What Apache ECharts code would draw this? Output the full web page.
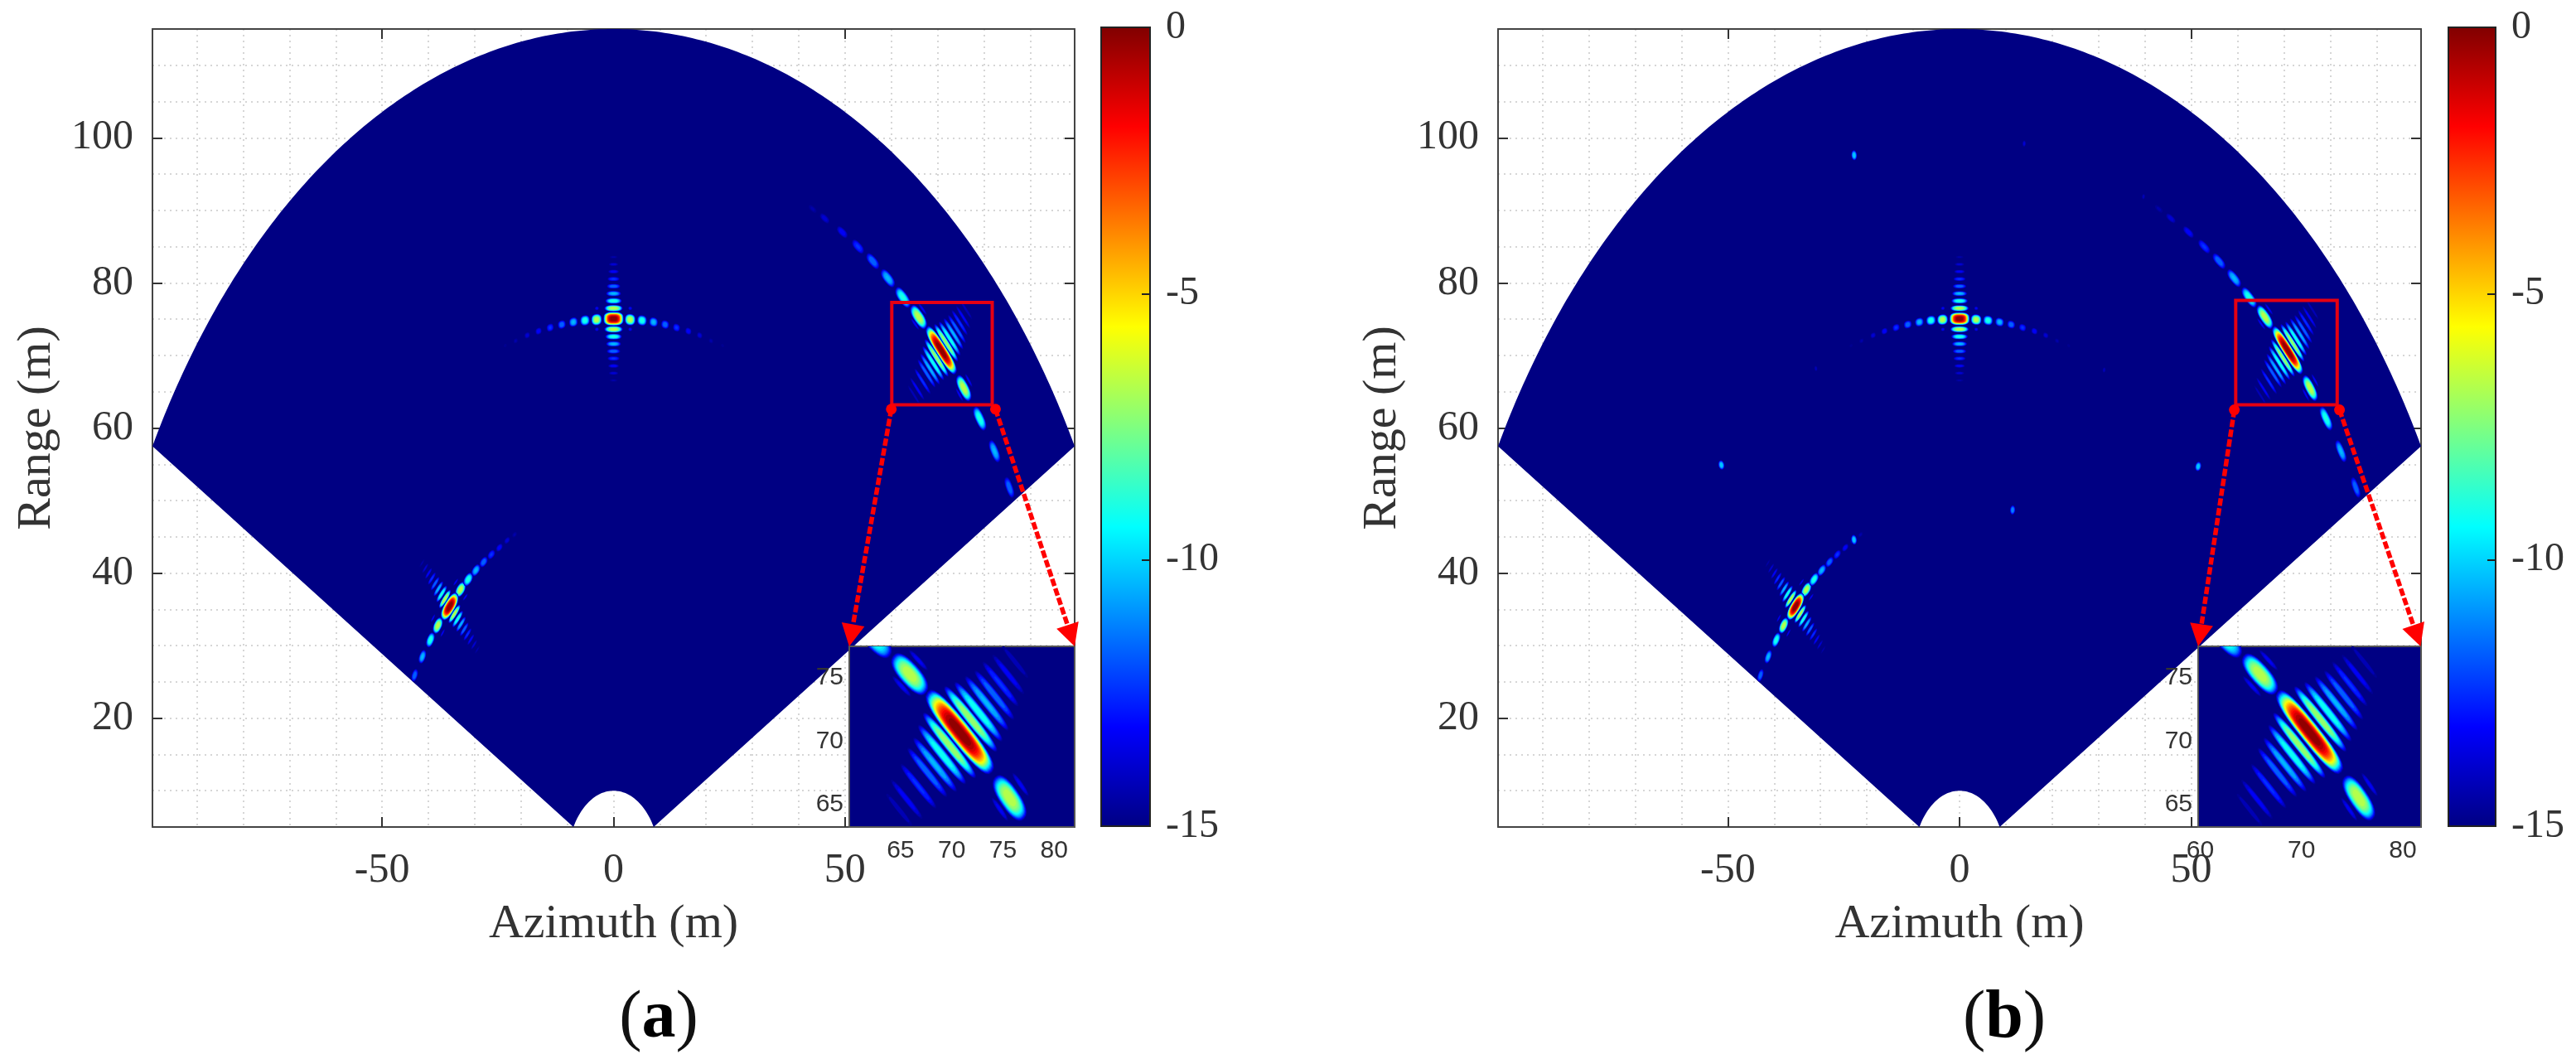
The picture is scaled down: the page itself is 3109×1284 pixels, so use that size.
<!DOCTYPE html>
<html><head><meta charset="utf-8">
<style>html,body{margin:0;padding:0;background:#fff}#c{width:3109px;height:1284px}</style>
<script src="https://cdn.jsdelivr.net/npm/echarts@6/dist/echarts.min.js"></script>
</head><body><div id="c"></div>
<script>
// ---------- values (azimuth m, range m, level dB) ----------
const xTicks=[-50,0,50];
const yTicks=[20,40,60,80,100];
const xGridValues=[-90,-80,-70,-60,-50,-40,-30,-20,-10,0,10,20,30,40,50,60,70,80,90];
const yGridValues=[10,15,20,25,30,35,40,45,50,55,60,65,70,75,80,85,90,95,100,105,110];
const sectorRadii=[10,115];
const sectorHalfAngle=[60];
const colorbarTicks=[-15,-10,-5,0];
const insetYTicks=[65,70,75];
const insetXTicksA=[65,70,75,80];
const insetXTicksB=[60,70,80];

const starMain=[[0,75.06,0]];
const starAzimuthLobes=[[3.58,74.94,-6.6],[6.15,74.83,-8.9],[8.64,74.6,-10.4],[11.14,74.26,-11.5],[13.6,73.84,-12.4],[16.16,73.35,-13.2],[18.6,72.77,-13.8],[21.05,72.01,-14.4],[23.55,71.36,-14.8],
 [-3.67,74.94,-6.6],[-6.17,74.83,-8.9],[-8.68,74.6,-10.4],[-11.18,74.26,-11.5],[-13.69,73.84,-12.4],[-16.2,73.35,-13.2],[-18.65,72.77,-13.8],[-21.15,72.01,-14.4],[-23.4,71.36,-14.8]];
const starRangeLobes=[[0,76.51,-6.6],[0,77.52,-8.9],[0,78.53,-10.4],[0,79.54,-11.5],[0,80.54,-12.4],[0,81.56,-13.2],[0,82.56,-13.8],[0,83.56,-14.4],
 [0,73.61,-6.6],[0,72.6,-8.9],[0,71.59,-10.4],[0,70.58,-11.5],[0,69.58,-12.4],[0,68.56,-13.2],[0,67.56,-13.8],[0,66.56,-14.4]];
const starCornerLobes=[[3.6,76.5,-13.3],[-3.6,76.5,-13.3],[3.6,73.6,-13.3],[-3.6,73.6,-13.3]];

const leftMain=[[-35.4,35.4,0]];
const leftChainLobes=[[-33.06,37.72,-6.6],[-31.4,39.13,-8.9],[-29.73,40.39,-10.4],[-28.06,41.53,-11.5],[-26.39,42.56,-12.4],[-24.66,43.51,-13.2],[-22.99,44.5,-13.8],[-21.38,45.3,-14.4],
 [-37.96,32.77,-6.6],[-39.56,30.79,-8.9],[-41.29,28.47,-10.4],[-42.96,25.91,-11.5]];
const leftCombLobes=[[-36.43,36.43,-6.6],[-37.13,37.13,-8.9],[-37.84,37.84,-10.4],[-38.55,38.55,-11.5],[-39.25,39.25,-12.4],[-39.96,39.96,-13.2],[-40.67,40.67,-13.8],[-41.37,41.37,-14.4],
 [-34.37,34.37,-6.6],[-33.67,33.67,-8.9],[-32.96,32.96,-10.4],[-32.25,32.25,-11.5],[-31.55,31.55,-12.4],[-30.84,30.84,-13.2],[-30.13,30.13,-13.8],[-29.43,29.43,-14.4]];
const leftFlankLobes=[[-34.09,38.75,-13.3],[-32.03,36.69,-13.3],[-38.99,33.8,-13.3],[-36.93,31.74,-13.3]];

const rightMain=[[70.79,70.72,0]];
const rightChainLobes=[[65.9,75.3,-6.6],[62.5,78,-8.9],[59.25,80.65,-10.4],[56,83,-11.5],[52.8,85,-12.4],[49.4,87,-13.2],[45.6,88.9,-13.8],[43,90.2,-14.4],
 [75.65,65.5,-6.6],[79.1,61.3,-8.9],[82.3,56.8,-10.4],[85.5,51.8,-11.5]];
const rightCombLobes=[[71.85,71.75,-7],[72.61,72.33,-9],[73.42,72.99,-10.4],[74.17,73.64,-11.5],[74.76,74.52,-12.4],[75.52,75.28,-13.2],[76.19,76.27,-14],
 [69.78,69.66,-7],[69.05,68.94,-9],[68.37,68.13,-10.4],[67.62,67.52,-11.5],[66.75,66.43,-12.4],[65.6,65.4,-13.2],[64.87,64.57,-14]];
const rightFlankLobes=[[66.74,76.41,-13.3],[65.12,74.33,-13.3],[76.72,66.56,-13.3],[74.7,64.6,-13.3]];

// ghost responses present only in panel (b)
const ghostLobes=[[-22.75,97.6,-10],[13.95,99.2,-13.8],[-51.4,54.9,-10],[51.5,54.7,-10],[11.45,48.7,-11],[-22.78,44.6,-10],[-31,68.2,-14.2],[31.2,68,-14.2],[39.7,91.9,-14.2]];

// zoom window
const zoomBoxA=[60.1,63.2,81.8,77.3];
const zoomBoxB=[59.6,63.2,81.5,77.6];
const insetXRangeA=[60,82];
const insetXRangeB=[59.8,81.8];
const insetYRange=[63.2,77.5];
const arrowsA=[[60.0,62.6,50.9,29.9],[82.5,62.6,99.6,29.9]];
const arrowsB=[[59.3,62.5,51.5,29.9],[82.0,62.5,99.5,29.9]];

// ---------- colour scale ----------
const jetStops=[[0,[0,0,131]],[0.125,[0,0,255]],[0.375,[0,255,255]],[0.625,[255,255,0]],[0.875,[255,0,0]],[1,[128,0,0]]];
function jet(dB){
  const t=Math.max(0,Math.min(1,(dB+15)/15));
  for(let i=1;i<jetStops.length;i++){
    if(t<=jetStops[i][0]){
      const a=jetStops[i-1],b=jetStops[i],k=(t-a[0])/(b[0]-a[0]);
      return 'rgb('+[0,1,2].map(j=>Math.round(a[1][j]+(b[1][j]-a[1][j])*k)).join(',')+')';
    }
  }
  return 'rgb(128,0,0)';
}
const NAVY='#000083', INK='#333333', SERIF='"Liberation Serif","Times New Roman",serif', SANS='"Liberation Sans",Arial,sans-serif';

// ---------- lobe drawing: nested contours in data space, axes follow the polar grid ----------
function lobeRender(params,api){
  const x=api.value(0),y=api.value(1),peak=api.value(2),aT=api.value(3),aR=api.value(4),n=api.value(5);
  const r=Math.hypot(x,y),Rx=x/r,Ry=y/r,Tx=y/r,Ty=-x/r;
  const children=[];
  for(let L=-15;L<peak-0.001;L+=0.5){
    const f=Math.pow((peak-L)/(peak+15),0.33);
    const pts=[];
    for(let k=0;k<28;k++){
      const t=k/28*2*Math.PI,c=Math.cos(t),s=Math.sin(t);
      const u=Math.sign(c)*Math.pow(Math.abs(c),2/n)*aT*f,v=Math.sign(s)*Math.pow(Math.abs(s),2/n)*aR*f;
      pts.push(api.coord([x+u*Tx+v*Rx,y+u*Ty+v*Ry]));
    }
    children.push({type:'polygon',silent:true,shape:{points:pts},style:{fill:jet(Math.min(L+0.25,peak))}});
  }
  return {type:'group',children};
}
function withShape(lobes,aT,aR,n,scaled,widthScale){
  return lobes.map(d=>{
    const s=scaled?Math.pow((d[2]+15)/8.4,0.35):1;
    return [d[0],d[1],d[2],aT*s,aR*s*widthScale,n];
  });
}
function starLobes(w){
  return [].concat(
    withShape(starCornerLobes,0.75,0.45,2,true,w),
    withShape(starAzimuthLobes,1.15,0.8,2.4,true,w),
    withShape(starRangeLobes,2.0,0.44,2.4,true,w),
    withShape(starMain,2.2,0.95,3,false,w));
}
function leftLobes(w){
  return [].concat(
    withShape(leftFlankLobes,1.25,0.3,2,true,w),
    withShape(leftChainLobes,1.3,0.78,2.2,true,w),
    withShape(leftCombLobes,1.75,0.4,2.2,true,w),
    withShape(leftMain,2.4,1.0,2.4,false,w));
}
function rightLobes(w){
  return [].concat(
    withShape(rightFlankLobes,2.1,0.4,2,true,w),
    withShape(rightChainLobes,2.2,0.95,2.4,true,w),
    withShape(rightCombLobes,3.7,0.47,2.4,true,w),
    withShape(rightMain,4.5,0.98,2.8,false,w));
}

// ---------- option assembly ----------
const xAxes=[],yAxes=[],grids=[],series=[];
const X_RANGE=[-99.6,99.6],Y_RANGE=[5,115];
const off={show:false};
function addAxes(gridIndex,xo,yo){
  const xi=xAxes.length,yi=yAxes.length;
  if(xo)xAxes.push(Object.assign({type:'value',gridIndex,splitLine:off,axisLine:off,axisTick:off,axisLabel:off},xo));
  if(yo)yAxes.push(Object.assign({type:'value',gridIndex,splitLine:off,axisLine:off,axisTick:off,axisLabel:off},yo));
  return [xi,yi];
}
const frame={show:true,onZero:false,lineStyle:{color:'#444',width:2}};
const dotted={show:true,lineStyle:{color:'#d6d6d6',width:2,type:[2,5]}};
function ticks(vals){return {show:true,inside:true,length:12,customValues:vals,lineStyle:{color:'#333',width:2}};}

function addPanel(p){
  const G={left:p.left,top:35,width:p.right-p.left,height:963};
  const base=grids.length;
  // 0: dotted background lines
  grids.push(Object.assign({},G));
  addAxes(base,
    {min:X_RANGE[0],max:X_RANGE[1],splitLine:dotted,axisTick:{show:false,customValues:xGridValues},axisLabel:{show:false,customValues:xGridValues}},
    {min:Y_RANGE[0],max:Y_RANGE[1],splitLine:dotted,axisTick:{show:false,customValues:yGridValues},axisLabel:{show:false,customValues:yGridValues}});
  // 1: main axes with ticks and a closed box
  const mg=base+1;
  grids.push(Object.assign({},G));
  const mx=xAxes.length,my=yAxes.length;
  addAxes(mg,
    {min:X_RANGE[0],max:X_RANGE[1],position:'bottom',axisLine:frame,axisTick:ticks(xTicks),
     axisLabel:{show:true,customValues:xTicks,fontFamily:SERIF,fontSize:50,color:INK,margin:28,formatter:v=>String(v)},
     name:'Azimuth (m)',nameLocation:'middle',nameGap:89,nameTextStyle:{fontFamily:SERIF,fontSize:58,color:INK}},
    {min:Y_RANGE[0],max:Y_RANGE[1],position:'left',axisLine:frame,axisTick:ticks(yTicks),
     axisLabel:{show:true,customValues:yTicks,fontFamily:SERIF,fontSize:50,color:INK,margin:23,formatter:v=>String(v)},
     name:'Range (m)',nameLocation:'middle',nameGap:110,nameTextStyle:{fontFamily:SERIF,fontSize:58,color:INK}});
  addAxes(mg,
    {min:X_RANGE[0],max:X_RANGE[1],position:'top',axisLine:frame,axisTick:ticks(xTicks)},
    {min:Y_RANGE[0],max:Y_RANGE[1],position:'right',axisLine:frame,axisTick:ticks(yTicks)});
  // sector
  series.push({type:'custom',name:'coverage',xAxisIndex:mx,yAxisIndex:my,z:2,clip:false,silent:true,
    data:[[sectorRadii[0],sectorRadii[1],sectorHalfAngle[0]]],
    renderItem(params,api){
      const rIn=api.value(0),rOut=api.value(1),half=api.value(2)*Math.PI/180,pts=[];
      for(let k=0;k<=240;k++){const a=-half+2*half*k/240;pts.push(api.coord([rOut*Math.sin(a),rOut*Math.cos(a)]));}
      for(let k=0;k<=60;k++){const a=half-2*half*k/60;pts.push(api.coord([rIn*Math.sin(a),rIn*Math.cos(a)]));}
      return {type:'polygon',shape:{points:pts},style:{fill:NAVY}};
    }});
  // responses
  const data=[].concat(starLobes(p.w),leftLobes(p.w),rightLobes(p.w),p.extra||[]);
  series.push({type:'custom',name:'responses',xAxisIndex:mx,yAxisIndex:my,z:3,clip:false,silent:true,data,renderItem:lobeRender});
  // 2: inset
  const ig=base+2;
  grids.push({left:p.insetLeft,top:780,width:p.right-p.insetLeft,height:218,show:true,backgroundColor:NAVY,borderColor:'#555',borderWidth:2,z:4});
  const ix=xAxes.length,iy=yAxes.length;
  const insetLab={show:true,fontFamily:SANS,fontSize:30,color:INK};
  addAxes(ig,
    {min:p.insetX[0],max:p.insetX[1],position:'bottom',z:6,axisTick:{show:false,customValues:p.insetXTicks},axisLabel:Object.assign({customValues:p.insetXTicks,margin:14},insetLab)},
    {min:insetYRange[0],max:insetYRange[1],position:'left',z:6,axisTick:{show:false,customValues:insetYTicks},axisLabel:Object.assign({customValues:insetYTicks,margin:7},insetLab)});
  xAxes[ix].axisLine={show:false,onZero:false};yAxes[iy].axisLine={show:false,onZero:false};
  series.push({type:'custom',name:'inset',xAxisIndex:ix,yAxisIndex:iy,z:5,clip:true,silent:true,data:rightLobes(p.w),renderItem:lobeRender});
  // annotation: zoom box and arrows
  series.push({type:'custom',name:'zoom box',xAxisIndex:mx,yAxisIndex:my,z:8,clip:false,silent:true,data:[p.box],
    renderItem(params,api){
      const a=api.coord([api.value(0),api.value(3)]),b=api.coord([api.value(2),api.value(1)]);
      return {type:'rect',shape:{x:a[0],y:a[1],width:b[0]-a[0],height:b[1]-a[1]},style:{fill:null,stroke:'#e60012',lineWidth:4}};
    }});
  series.push({type:'custom',name:'zoom arrows',xAxisIndex:mx,yAxisIndex:my,z:9,clip:false,silent:true,data:p.arrows,
    renderItem(params,api){
      const a=api.coord([api.value(0),api.value(1)]),b=api.coord([api.value(2),api.value(3)]);
      const dx=b[0]-a[0],dy=b[1]-a[1],len=Math.hypot(dx,dy),ux=dx/len,uy=dy/len,h=27,w=14;
      const e=[b[0]-ux*h,b[1]-uy*h];
      return {type:'group',children:[
        {type:'line',shape:{x1:a[0],y1:a[1],x2:e[0],y2:e[1]},style:{stroke:'#ff0000',lineWidth:5.5,lineDash:[9,3]}},
        {type:'circle',shape:{cx:a[0],cy:a[1],r:6.5},style:{fill:'#ff0000'}},
        {type:'polygon',shape:{points:[b,[e[0]-uy*w,e[1]+ux*w],[e[0]+uy*w,e[1]-ux*w]]},style:{fill:'#ff0000'}}
      ]};
    }});
  // 3: colour bar
  const cg=base+3;
  grids.push({left:p.barLeft,top:33,width:p.barWidth,height:964});
  const cx=xAxes.length,cy=yAxes.length;
  addAxes(cg,{min:0,max:1},
    {min:colorbarTicks[0],max:colorbarTicks[colorbarTicks.length-1],position:'right',z:6,
     axisLine:{show:false,onZero:false},
     axisTick:{show:true,inside:true,length:10,customValues:colorbarTicks,lineStyle:{color:'#222',width:2}},
     axisLabel:{show:true,customValues:colorbarTicks,fontFamily:SERIF,fontSize:48,color:INK,margin:19,formatter:v=>String(v)}});
  series.push({type:'custom',name:'colorbar',xAxisIndex:cx,yAxisIndex:cy,z:2,clip:false,silent:true,
    data:[[colorbarTicks[0],colorbarTicks[colorbarTicks.length-1]]],
    renderItem(params,api){
      const a=api.coord([0,api.value(1)]),b=api.coord([1,api.value(0)]);
      const stops=jetStops.map(s=>({offset:1-s[0],color:'rgb('+s[1].join(',')+')'})).reverse();
      return {type:'rect',shape:{x:a[0],y:a[1],width:b[0]-a[0],height:b[1]-a[1]},
        style:{fill:new echarts.graphic.LinearGradient(0,0,0,1,stops),stroke:'#222',lineWidth:2}};
    }});
}
addPanel({left:184,right:1297,insetLeft:1025,insetX:insetXRangeA,insetXTicks:insetXTicksA,box:zoomBoxA,arrows:arrowsA,barLeft:1329,barWidth:59,w:1});
addPanel({left:1808,right:2922,insetLeft:2653,insetX:insetXRangeB,insetXTicks:insetXTicksB,box:zoomBoxB,arrows:arrowsB,barLeft:2955,barWidth:57,w:0.92,
  extra:withShape(ghostLobes,0.7,0.85,2,true,1)});

function caption(letter,cx){
  return {text:'{p|(}{b|'+letter+'}{p|)}',left:cx,top:1184,textAlign:'center',
    textStyle:{fontWeight:'normal',rich:{p:{fontFamily:SERIF,fontSize:82,fontWeight:'normal',color:'#111'},b:{fontFamily:SERIF,fontSize:82,fontWeight:'bold',color:'#000'}}}};
}
const chart=echarts.init(document.getElementById('c'),null,{renderer:'canvas',width:3109,height:1284});
chart.setOption({animation:false,backgroundColor:'#fff',
  title:[caption('a',790),caption('b',2414)],
  grid:grids,xAxis:xAxes,yAxis:yAxes,series});
</script></body></html>
